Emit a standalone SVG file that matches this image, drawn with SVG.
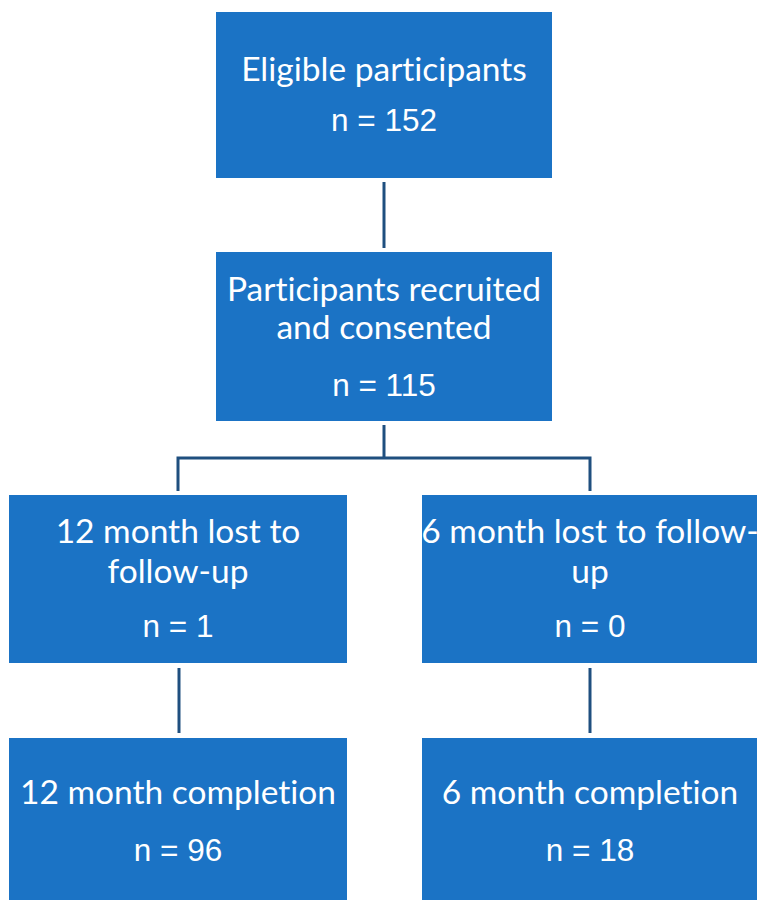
<svg xmlns="http://www.w3.org/2000/svg" width="757" height="900" viewBox="0 0 757 900">
<style>
.box{fill:#1b73c5;}
.t{font-family:Lato,"Open Sans",sans-serif;font-size:33.5px;fill:#ffffff;text-anchor:middle;font-variant-ligatures:none;font-feature-settings:"liga" 0,"dlig" 0;}
.n{font-family:"Liberation Sans",Arial,sans-serif;font-size:31.5px;fill:#ffffff;text-anchor:middle;}
.c{stroke:#1f4f7f;stroke-width:3;fill:none;}
</style>
<rect width="757" height="900" fill="#ffffff"/>
<g id="connectors">
<line class="c" x1="384" y1="182" x2="384" y2="248"/>
<polyline class="c" points="384,425 384,458"/>
<polyline class="c" points="178,491 178,458 590,458 590,491"/>
<line class="c" x1="179" y1="668" x2="179" y2="733"/>
<line class="c" x1="590" y1="668" x2="590" y2="733"/>
</g>
<g id="eligible">
<rect class="box" x="216" y="12" width="336" height="166"/>
<text class="t" x="384" y="81">Eligible participants</text>
<text class="n" x="384" y="131">n = 152</text>
</g>
<g id="recruited">
<rect class="box" x="216" y="252" width="336" height="169"/>
<text class="t" x="384" y="301">Participants recruited</text>
<text class="t" x="384" y="339">and consented</text>
<text class="n" x="384" y="396">n = 115</text>
</g>
<g id="lost12">
<rect class="box" x="9" y="495" width="338" height="168"/>
<text class="t" x="178" y="543">12 month lost to</text>
<text class="t" x="178" y="583">follow-up</text>
<text class="n" x="178" y="637">n = 1</text>
</g>
<g id="lost6">
<rect class="box" x="422" y="495" width="338" height="168"/>
<text class="t" x="590" y="543">6 month lost to follow-</text>
<text class="t" x="590" y="583">up</text>
<text class="n" x="590" y="637">n = 0</text>
</g>
<g id="complete12">
<rect class="box" x="9" y="738" width="338" height="170"/>
<text class="t" x="178" y="804">12 month completion</text>
<text class="n" x="178" y="861">n = 96</text>
</g>
<g id="complete6">
<rect class="box" x="422" y="738" width="338" height="170"/>
<text class="t" x="590" y="804">6 month completion</text>
<text class="n" x="590" y="861">n = 18</text>
</g>
</svg>
